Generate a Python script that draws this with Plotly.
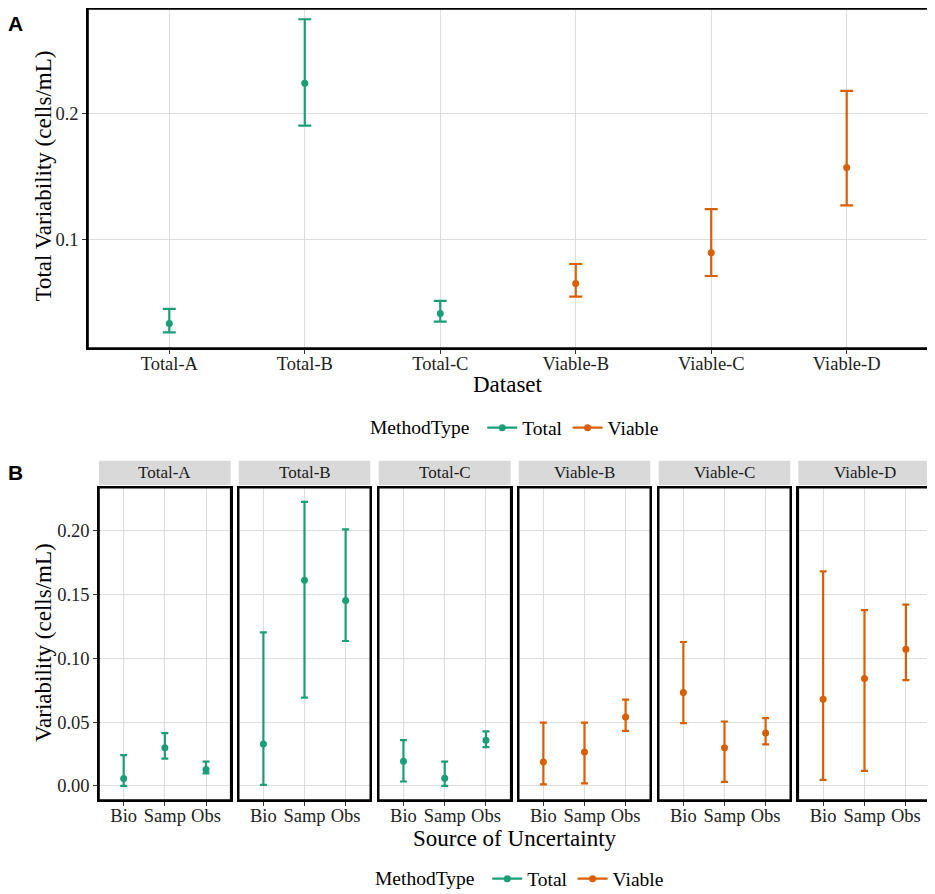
import plotly.graph_objects as go

# --- panel A: total variability per dataset
datasets = ["Total-A", "Total-B", "Total-C", "Viable-B", "Viable-C", "Viable-D"]
method = ["Total", "Total", "Total", "Viable", "Viable", "Viable"]
total_mid = [0.0337, 0.2237, 0.0416, 0.0653, 0.0897, 0.1571]
total_lo = [0.0268, 0.1902, 0.0353, 0.0550, 0.0713, 0.1271]
total_hi = [0.0453, 0.2742, 0.0516, 0.0808, 0.1242, 0.2176]

# --- panel B: variability by source of uncertainty (one row per dataset)
sources = ["Bio", "Samp", "Obs"]
comp_mid = [
    [0.0057, 0.0299, 0.0128],
    [0.0327, 0.1610, 0.1452],
    [0.0192, 0.0060, 0.0358],
    [0.0187, 0.0265, 0.0540],
    [0.0732, 0.0299, 0.0413],
    [0.0678, 0.0841, 0.1070],
]
comp_lo = [
    [0.0000, 0.0213, 0.0097],
    [0.0008, 0.0691, 0.1135],
    [0.0034, 0.0000, 0.0304],
    [0.0011, 0.0019, 0.0431],
    [0.0491, 0.0031, 0.0325],
    [0.0047, 0.0117, 0.0829],
]
comp_hi = [
    [0.0241, 0.0413, 0.0190],
    [0.1202, 0.2225, 0.2009],
    [0.0358, 0.0190, 0.0426],
    [0.0496, 0.0496, 0.0675],
    [0.1127, 0.0504, 0.0530],
    [0.1680, 0.1376, 0.1420],
]

colors = {"Total": "#1B9E77", "Viable": "#D95F02"}
# the page body has an 8px margin, so the figure starts 8px in
OFF = 8
W, H = 935 - OFF, 894 - OFF
SERIF = "Liberation Serif"


def px_x(x):
    return (x - OFF) / W


def px_y(y):
    return min(1.0, 1 - (y - OFF) / H)


def label(x, y, text, size=23, angle=0, family=SERIF, color="black"):
    # text placed in pixel coords of the page
    return dict(x=px_x(x), y=px_y(y), xref="paper", yref="paper",
                xanchor="center", yanchor="middle", text=text, showarrow=False,
                textangle=angle, font=dict(family=family, size=size, color=color))


def border(ax):
    # panel border drawn as a shape so all four sides show
    return dict(type="rect", xref="x" + ax + " domain", yref="y" + ax + " domain",
                x0=0, x1=1, y0=0, y1=1, line=dict(color="black", width=1.6),
                fillcolor="rgba(0,0,0,0)", layer="above")


fig = go.Figure()

# panel A traces
for m in ["Total", "Viable"]:
    idx = [i for i in range(len(datasets)) if method[i] == m]
    fig.add_trace(go.Scatter(
        x=[datasets[i] for i in idx],
        y=[total_mid[i] for i in idx],
        mode="markers",
        marker=dict(color=colors[m], size=7),
        error_y=dict(
            type="data", symmetric=False,
            array=[total_hi[i] - total_mid[i] for i in idx],
            arrayminus=[total_mid[i] - total_lo[i] for i in idx],
            color=colors[m], thickness=2.2, width=6.5
        ),
        showlegend=False, xaxis="x", yaxis="y"
    ))

# panel B traces
for k, ds in enumerate(datasets):
    m = method[k]
    ax = str(k + 2)
    fig.add_trace(go.Scatter(
        x=sources,
        y=comp_mid[k],
        mode="markers",
        marker=dict(color=colors[m], size=7),
        error_y=dict(
            type="data", symmetric=False,
            array=[h - v for h, v in zip(comp_hi[k], comp_mid[k])],
            arrayminus=[v - l for v, l in zip(comp_mid[k], comp_lo[k])],
            color=colors[m], thickness=2.2, width=3.5
        ),
        showlegend=False, xaxis="x" + ax, yaxis="y" + ax
    ))

# legend-only traces
for leg, xa, ya in [("legend", "x", "y"), ("legend2", "x2", "y2")]:
    for m in ["Total", "Viable"]:
        fig.add_trace(go.Scatter(
            x=[None], y=[None], mode="lines+markers", name=m,
            line=dict(color=colors[m], width=2.2),
            marker=dict(color=colors[m], size=7),
            legend=leg, xaxis=xa, yaxis=ya
        ))

axis_common = dict(
    showline=True, linecolor="black", linewidth=1.5, mirror=True,
    showgrid=True, gridcolor="#DEDEDE", gridwidth=1, zeroline=False,
    ticks="outside", ticklen=4, tickcolor="#333333", tickwidth=1,
    tickfont=dict(family=SERIF, size=18.5, color="#222222"),
    automargin=False,
)
xtick = dict(ticklabelstandoff=-6)

layout = dict(
    width=W, height=H,
    margin=dict(l=0, r=0, t=0, b=0, autoexpand=False),
    paper_bgcolor="white", plot_bgcolor="white",
    font=dict(family=SERIF, color="black"),
    xaxis=dict(axis_common, **xtick, domain=[px_x(88), px_x(928)], anchor="y",
               type="category", categoryorder="array", categoryarray=datasets,
               range=[-0.6, 5.6]),
    # panel top kept just inside the figure, range trimmed to keep the same scale
    yaxis=dict(axis_common, domain=[px_y(348), px_y(9)], anchor="x",
               range=[0.0144, 0.2823], tickvals=[0.1, 0.2], ticktext=["0.1", "0.2"]),
)

panel_x = [(99, 230.7), (238.7, 370.3), (378.7, 510.7),
           (518.7, 650.3), (658.7, 790.3), (798.3, 930.7)]
yB = [px_y(800), px_y(487.7)]

shapes = [border("")]
annotations = []
for k, (x0, x1) in enumerate(panel_x):
    ax = str(k + 2)
    layout["xaxis" + ax] = dict(axis_common, **xtick, domain=[px_x(x0), px_x(x1)],
                                anchor="y" + ax, type="category", categoryorder="array",
                                categoryarray=sources, range=[-0.6, 2.6])
    yax = dict(axis_common, domain=yB, anchor="x" + ax, range=[-0.0111, 0.2336],
               tickvals=[0, 0.05, 0.10, 0.15, 0.20],
               ticktext=["0.00", "0.05", "0.10", "0.15", "0.20"])
    if k > 0:
        yax.update(matches="y2", showticklabels=False, ticks="")
    layout["yaxis" + ax] = yax
    shapes.append(border(ax))
    # facet strip
    shapes.append(dict(type="rect", xref="paper", yref="paper",
                       x0=px_x(x0), x1=px_x(x1), y0=px_y(485), y1=px_y(460.7),
                       fillcolor="#D9D9D9", line=dict(width=0), layer="below"))
    annotations.append(label((x0 + x1) / 2, 473, datasets[k], size=17, color="#1A1A1A"))

# axis titles and panel letters
annotations += [
    label(508, 384, "Dataset"),
    label(42.5, 176, "Total Variability (cells/mL)", angle=-90),
    label(515, 838, "Source of Uncertainty"),
    label(43, 643, "Variability (cells/mL)", angle=-90),
    label(16, 23.5, "<b>A</b>", size=21, family="Liberation Sans"),
    label(16, 473, "<b>B</b>", size=21, family="Liberation Sans"),
]

legend_common = dict(
    orientation="h", xanchor="left", yanchor="middle",
    title=dict(text="MethodType ", side="left", font=dict(family=SERIF, size=19.5)),
    font=dict(family=SERIF, size=19.5, color="black"),
    bgcolor="rgba(0,0,0,0)", itemwidth=30, tracegroupgap=0,
)
layout["legend"] = dict(legend_common, x=px_x(368), y=px_y(428))
layout["legend2"] = dict(legend_common, x=px_x(373), y=px_y(879))
layout["shapes"] = shapes
layout["annotations"] = annotations

fig.update_layout(**layout)
fig.write_html("out.html")
